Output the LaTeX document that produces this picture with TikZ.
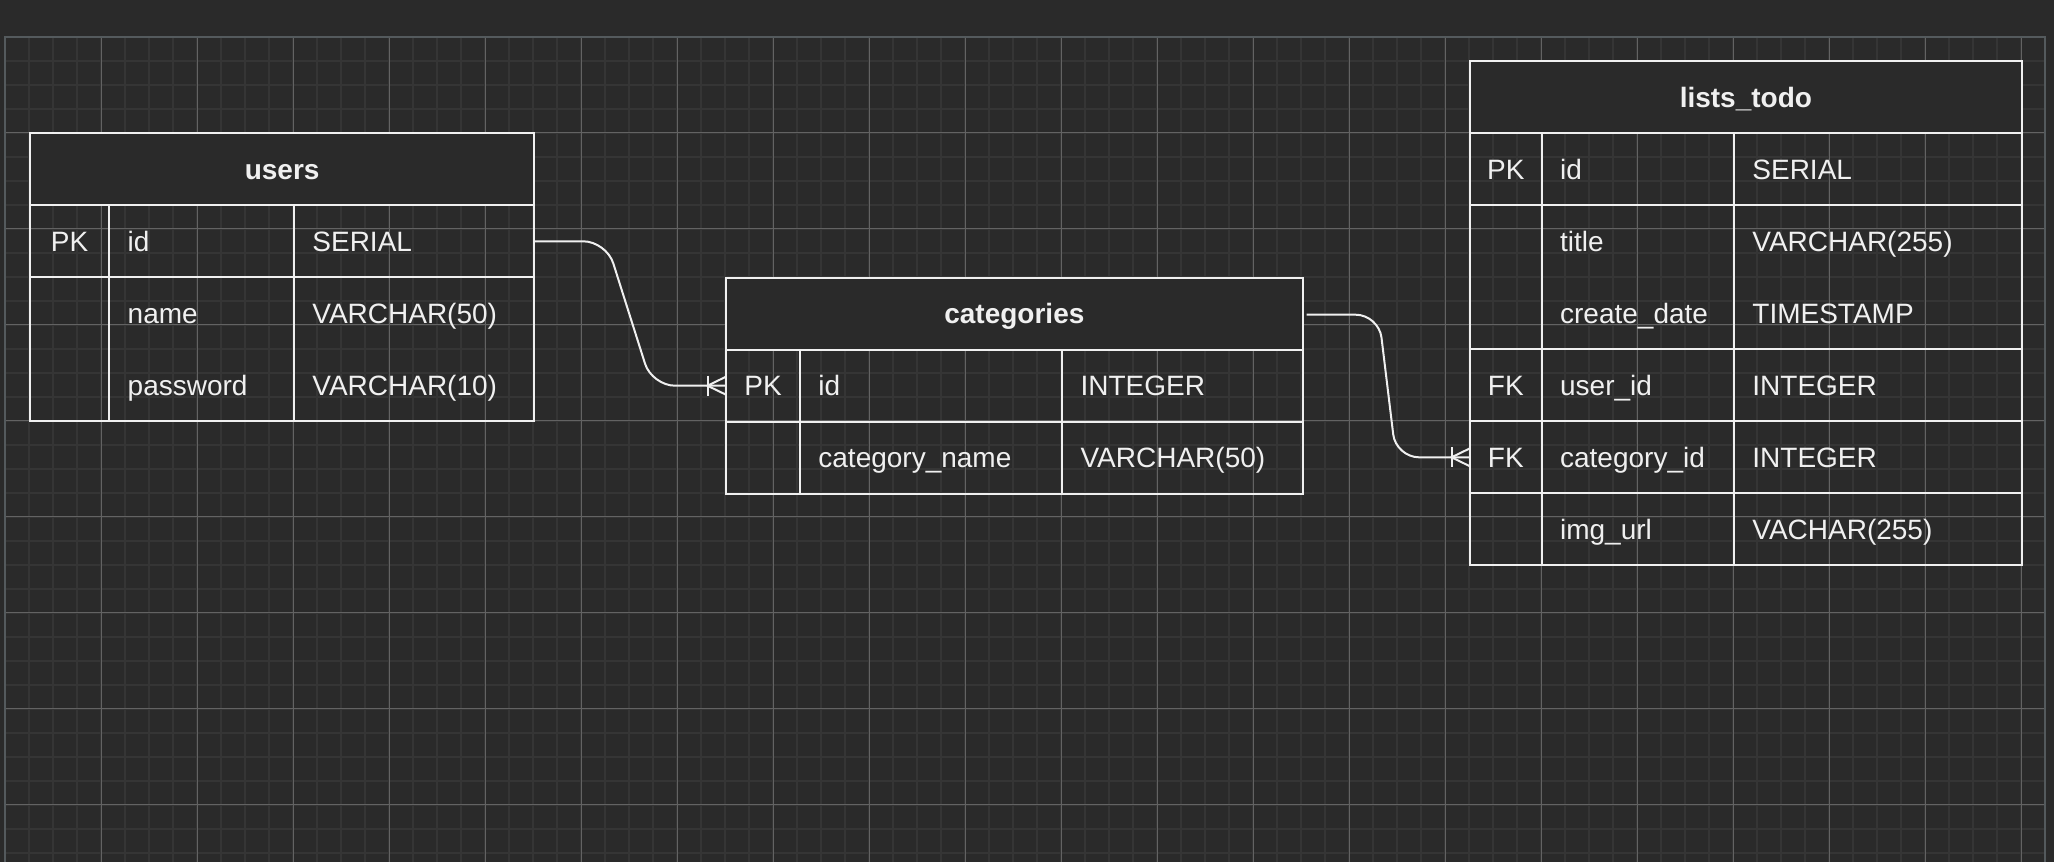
\documentclass[tikz,border=0pt]{standalone}
\usepackage{fontspec}
\setmainfont{Liberation Sans}
\usetikzlibrary{calc}
\definecolor{bg}{HTML}{2A2A2A}
\definecolor{gridminor}{HTML}{353535}
\definecolor{gridmajor}{HTML}{636363}
\definecolor{gridborder}{HTML}{545A5D}
\definecolor{fg}{HTML}{F0F0F0}
\begin{document}
\begin{tikzpicture}[x=0.5pt,y=-0.5pt,
  minorline/.style={draw=gridminor, line width=1pt},
  majorline/.style={draw=gridmajor, line width=0.5pt},
  tablebox/.style={draw=fg, line width=1pt, inner sep=0pt, outer sep=0pt, anchor=north west, minimum height=36pt},
  headbox/.style={tablebox, fill=bg},
  sepline/.style={draw=fg, line width=1pt},
  field/.style={anchor=base west, inner sep=0pt, text=fg, font=\fontsize{14pt}{16pt}\selectfont},
  keytxt/.style={anchor=base, inner sep=0pt, text=fg, font=\fontsize{14pt}{16pt}\selectfont},
  tabletitle/.style={anchor=base, inner sep=0pt, text=fg, font=\fontsize{14pt}{16pt}\selectfont\bfseries},
  relation/.style={draw=fg, line width=1pt, rounded corners=11.5pt},
  crow/.style={draw=fg, line width=1pt},
]
\useasboundingbox (0,0) rectangle (2054,862);
\fill[bg] (0,0) rectangle (2054,862);
% grid
\foreach \i in {1,...,84} {
  \pgfmathsetmacro\xx{5.3+24*\i}
  \draw[minorline] (\xx,36.8) -- (\xx,862);
}
\foreach \j in {1,...,34} {
  \pgfmathsetmacro\yy{36.8+24*\j}
  \draw[minorline] (5.3,\yy) -- (2045.3,\yy);
}
\foreach \i in {1,...,21} {
  \pgfmathsetmacro\xx{5.3+96*\i}
  \draw[majorline] (\xx,36.8) -- (\xx,862);
}
\foreach \j in {1,...,8} {
  \pgfmathsetmacro\yy{36.8+96*\j}
  \draw[majorline] (5.3,\yy) -- (2045.3,\yy);
}
\draw[gridborder, line width=1pt] (5.3,862) -- (5.3,36.8) -- (2045.3,36.8) -- (2045.3,862);

% users
\node[headbox, minimum width=252.15pt] (u-h) at (30,133.3) {};
\node[tablebox, minimum width=252.15pt] (u-r1) at (30,205.3) {};
\node[tablebox, minimum width=252.15pt, minimum height=72pt] (u-r2) at (30,277.3) {};
\draw[sepline] (109.3,205.3) -- (109.3,421.3);
\draw[sepline] (294,205.3) -- (294,421.3);
\node[tabletitle] (u-t) at (282.15,179.3) {users};
\node[keytxt] (u-k1) at (69.65,251.3) {PK};
\node[field] (u-f1) at (127.3,251.3) {id};
\node[field] (u-y1) at (312,251.3) {SERIAL};
\node[field] (u-f2) at (127.3,323.3) {name};
\node[field] (u-y2) at (312,323.3) {VARCHAR(50)};
\node[field] (u-f3) at (127.3,395.3) {password};
\node[field] (u-y3) at (312,395.3) {VARCHAR(10)};

% categories
\node[headbox, minimum width=288.35pt] (c-h) at (726,277.7) {};
\node[tablebox, minimum width=288.35pt] (c-r1) at (726,349.7) {};
\node[tablebox, minimum width=288.35pt] (c-r2) at (726,421.7) {};
\draw[sepline] (800,349.7) -- (800,493.7);
\draw[sepline] (1062.2,349.7) -- (1062.2,493.7);
\node[tabletitle] (c-t) at (1014.35,323.7) {categories};
\node[keytxt] (c-k1) at (763,395.7) {PK};
\node[field] (c-f1) at (818,395.7) {id};
\node[field] (c-y1) at (1080.2,395.7) {INTEGER};
\node[field] (c-f2) at (818,467.7) {category\_name};
\node[field] (c-y2) at (1080.2,467.7) {VARCHAR(50)};

% lists_todo
\node[headbox, minimum width=275.85pt] (l-h) at (1470,61.3) {};
\node[tablebox, minimum width=275.85pt] (l-r1) at (1470,133.3) {};
\node[tablebox, minimum width=275.85pt, minimum height=72pt] (l-r2) at (1470,205.3) {};
\node[tablebox, minimum width=275.85pt] (l-r3) at (1470,349.3) {};
\node[tablebox, minimum width=275.85pt] (l-r4) at (1470,421.3) {};
\node[tablebox, minimum width=275.85pt] (l-r5) at (1470,493.3) {};
\draw[sepline] (1541.7,133.3) -- (1541.7,565.3);
\draw[sepline] (1734,133.3) -- (1734,565.3);
\node[tabletitle] (l-t) at (1745.85,107.3) {lists\_todo};
\node[keytxt] (l-k1) at (1505.85,179.3) {PK};
\node[field] (l-f1) at (1559.7,179.3) {id};
\node[field] (l-y1) at (1752,179.3) {SERIAL};
\node[field] (l-f2) at (1559.7,251.3) {title};
\node[field] (l-y2) at (1752,251.3) {VARCHAR(255)};
\node[field] (l-f3) at (1559.7,323.3) {create\_date};
\node[field] (l-y3) at (1752,323.3) {TIMESTAMP};
\node[keytxt] (l-k4) at (1505.85,395.3) {FK};
\node[field] (l-f4) at (1559.7,395.3) {user\_id};
\node[field] (l-y4) at (1752,395.3) {INTEGER};
\node[keytxt] (l-k5) at (1505.85,467.3) {FK};
\node[field] (l-f5) at (1559.7,467.3) {category\_id};
\node[field] (l-y5) at (1752,467.3) {INTEGER};
\node[field] (l-f6) at (1559.7,539.3) {img\_url};
\node[field] (l-y6) at (1752,539.3) {VACHAR(255)};

% relations
\draw[relation] (u-r1.east) -- ++(72,0) -- ($(c-r1.west)+(-74,0)$) -- (c-r1.west);
\draw[crow] ($(c-r1.west)+(-18.5,-10)$) -- ++(0,20);
\draw[crow] ($(c-r1.west)+(0,-9)$) -- ($(c-r1.west)+(-18.5,0)$) -- ($(c-r1.west)+(0,9)$);

\coordinate (c-out) at ($(c-h.east)+(4,1)$);
\draw[relation] (c-out) -- ++(72,0) -- ($(l-r4.west)+(-74,0)$) -- (l-r4.west);
\draw[crow] ($(l-r4.west)+(-18.5,-10)$) -- ++(0,20);
\draw[crow] ($(l-r4.west)+(0,-9)$) -- ($(l-r4.west)+(-18.5,0)$) -- ($(l-r4.west)+(0,9)$);
\end{tikzpicture}
\end{document}
